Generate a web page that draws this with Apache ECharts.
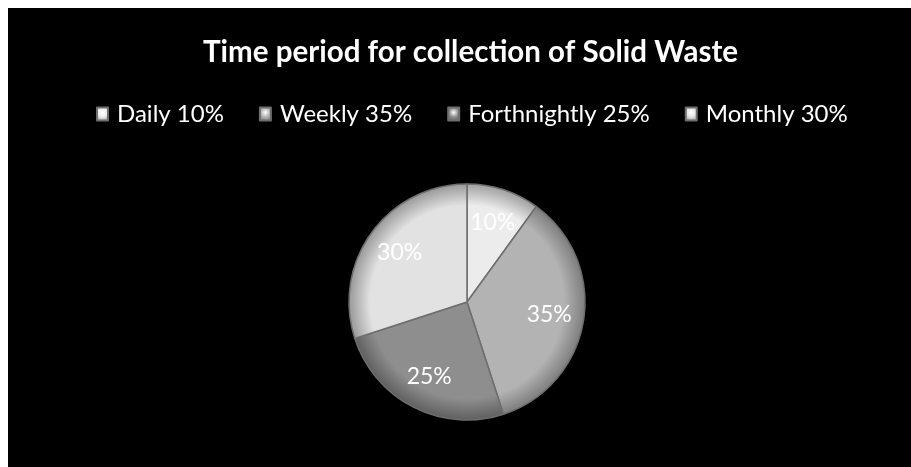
<!DOCTYPE html>
<html>
<head>
<meta charset="utf-8">
<script src="https://cdn.jsdelivr.net/npm/echarts@6/dist/echarts.min.js"></script>
<style>
  html, body { margin: 0; padding: 0; background: #ffffff; }
  #chart { position: absolute; left: 8px; top: 8px; width: 903px; height: 459px; }
</style>
</head>
<body>
<div id="chart"></div>
<script>
// Collection frequency shares (percent)
const categories = ['Daily', 'Weekly', 'Forthnightly', 'Monthly'];
const shares = [10, 35, 25, 30];
const baseColors = ['#ececec', '#b3b3b3', '#8e8e8e', '#e2e2e2'];
const rimColors = ['#a0a0a0', '#7e7e7e', '#606060', '#999999'];

const PIE_CX = 459, PIE_CY = 294, PIE_R = 118;
const FONT = 'Lato, "Open Sans", sans-serif';

function legendName(i) { return categories[i] + ' ' + shares[i] + '%'; }

function sliceFill(i) {
  return {
    type: 'radial', global: true, x: PIE_CX, y: PIE_CY, r: PIE_R,
    colorStops: [
      { offset: 0, color: baseColors[i] },
      { offset: 0.82, color: baseColors[i] },
      { offset: 1, color: rimColors[i] }
    ]
  };
}

function iconFill(i) {
  return {
    type: 'radial', x: 0.5, y: 0.4, r: 0.7,
    colorStops: [
      { offset: 0, color: '#ffffff' },
      { offset: 0.5, color: baseColors[i] },
      { offset: 1, color: rimColors[i] }
    ]
  };
}

const pieData = categories.map((c, i) => ({
  name: legendName(i),
  value: shares[i],
  itemStyle: { color: sliceFill(i) }
}));

// label ring: same values, drawn transparent, so labels sit ~68% out from the centre
const labelData = categories.map((c, i) => ({
  name: legendName(i),
  value: shares[i]
}));

const chart = echarts.init(document.getElementById('chart'), null, { renderer: 'canvas' });
chart.setOption({
  backgroundColor: '#000000',
  animation: false,
  title: {
    text: 'Time period for collection of Solid Waste',
    left: 190,
    top: 24,
    textStyle: { color: '#ffffff', fontFamily: FONT, fontWeight: 'bold', fontSize: 29.5 }
  },
  legend: {
    top: 89,
    left: 83,
    itemWidth: 11,
    itemHeight: 13,
    itemGap: 35,
    icon: 'rect',
    textStyle: { color: '#ffffff', fontFamily: FONT, fontSize: 24, padding: [0, 0, 0, 4] },
    data: categories.map((c, i) => ({
      name: legendName(i),
      itemStyle: { color: iconFill(i) }
    }))
  },
  series: [
    {
      type: 'pie',
      center: [PIE_CX, PIE_CY],
      radius: PIE_R,
      startAngle: 90,
      clockwise: true,
      silent: true,
      data: pieData,
      label: { show: false },
      labelLine: { show: false },
      itemStyle: { borderColor: '#6e6e6e', borderWidth: 1.5 }
    },
    {
      type: 'pie',
      center: [PIE_CX, PIE_CY],
      radius: [PIE_R * 0.36, PIE_R],
      startAngle: 90,
      clockwise: true,
      silent: true,
      data: labelData,
      itemStyle: { color: 'rgba(0,0,0,0)', borderWidth: 0 },
      label: {
        show: true,
        position: 'inside',
        formatter: (p) => p.value + '%',
        color: '#ffffff',
        fontFamily: FONT,
        fontSize: 23
      },
      labelLine: { show: false }
    }
  ]
});
</script>
</body>
</html>
